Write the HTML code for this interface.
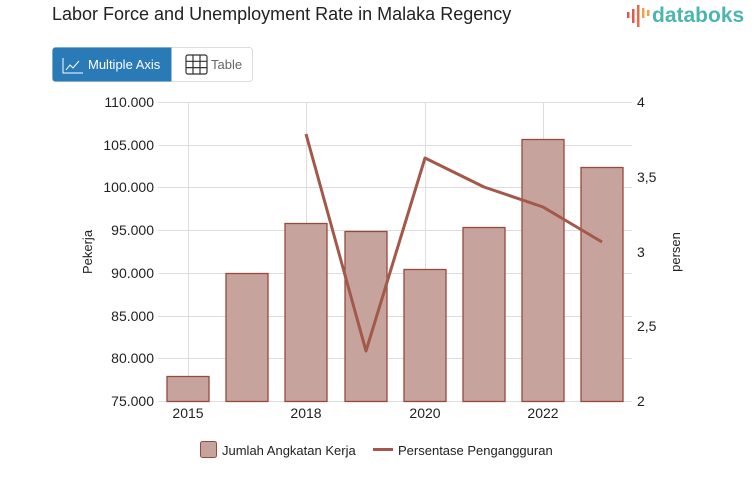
<!DOCTYPE html>
<html><head><style>
body{margin:0;width:753px;height:498px;background:#fff;font-family:"Liberation Sans",sans-serif;overflow:hidden;position:relative}
.t{position:absolute;left:52px;top:4px;font-size:18px;color:#222}
</style></head><body>
<div class="t">Labor Force and Unemployment Rate in Malaka Regency</div>
<svg width="753" height="498" style="position:absolute;left:0;top:0" font-family="Liberation Sans, sans-serif">
<!-- logo -->
<g fill="#e0584a"><rect x="627" y="12" width="2.5" height="6"/><rect x="632" y="9" width="2.5" height="14"/><rect x="637" y="5" width="2.5" height="22" fill="#e86a4a"/><rect x="642" y="8" width="2.5" height="10" fill="#f0a24a"/><rect x="647" y="10" width="2.5" height="6" fill="#f0a24a"/></g>
<text x="652" y="22" font-size="21" font-weight="bold" fill="#4bb6b0">databoks</text>
<!-- buttons -->
<rect x="52.5" y="47.5" width="200" height="34" rx="3" fill="#fff" stroke="#ddd"/>
<path d="M55.5 47.5h116v34h-116a3 3 0 0 1-3-3v-28a3 3 0 0 1 3-3z" fill="#2a7ab8"/>
<g stroke="#fff" fill="none" stroke-width="1"><path d="M63 58v15h20"/><path d="M66 70l4-5 3 3 6-7"/></g>
<text x="88" y="69" font-size="13" fill="#fff">Multiple Axis</text>
<g stroke="#333" fill="none" stroke-width="1.2"><rect x="186" y="55" width="21" height="19" rx="2"/><path d="M186 61.3h21M186 67.6h21M193 55v19M200 55v19"/></g>
<text x="211" y="69" font-size="13" fill="#666">Table</text>
<!-- grid -->
<g stroke="#ddd" stroke-width="1">
<path d="M158 102.5H632M158 145.5H632M158 187.5H632M158 230.5H632M158 273.5H632M158 316.5H632M158 358.5H632M158 401.5H632"/>
<path d="M188.5 102V401M306.5 102V401M425.5 102V401M543.5 102V401"/>
</g>
<g font-size="14" fill="#222" text-anchor="end">
<text x="154" y="107">110.000</text><text x="154" y="150">105.000</text><text x="154" y="192">100.000</text><text x="154" y="235">95.000</text><text x="154" y="278">90.000</text><text x="154" y="321">85.000</text><text x="154" y="363">80.000</text><text x="154" y="406">75.000</text>
</g>
<g font-size="14" fill="#222">
<text x="637" y="107">4</text><text x="637" y="182">3,5</text><text x="637" y="257">3</text><text x="637" y="331">2,5</text><text x="637" y="406">2</text>
</g>
<g font-size="14" fill="#222" text-anchor="middle">
<text x="188" y="418">2015</text><text x="306" y="418">2018</text><text x="425" y="418">2020</text><text x="543" y="418">2022</text>
</g>
<text transform="translate(92,252) rotate(-90)" font-size="13" text-anchor="middle" fill="#222">Pekerja</text>
<text transform="translate(680,252) rotate(-90)" font-size="13" text-anchor="middle" fill="#222">persen</text>
<!-- bars -->
<g fill="#c6a49d" stroke="#99493c" stroke-width="1.3">
<rect x="167" y="376.5" width="42" height="25"/>
<rect x="226" y="273.5" width="42" height="128"/>
<rect x="285" y="223.5" width="42" height="178"/>
<rect x="345" y="231.5" width="42" height="170"/>
<rect x="404" y="269.5" width="42" height="132"/>
<rect x="463" y="227.5" width="42" height="174"/>
<rect x="522" y="139.5" width="42" height="262"/>
<rect x="581" y="167.5" width="42" height="234"/>
</g>
<polyline points="306,134 366,351 425,158 484,187 543,207 602,242" fill="none" stroke="#a3584a" stroke-width="3" stroke-linejoin="round"/>
<!-- legend -->
<rect x="200.5" y="441.5" width="16" height="16" rx="2" fill="#c6a49d" stroke="#99493c"/>
<text x="222" y="455" font-size="13" fill="#222">Jumlah Angkatan Kerja</text>
<path d="M373 449.5h20" stroke="#a3584a" stroke-width="3"/>
<text x="398" y="455" font-size="13" fill="#222">Persentase Pengangguran</text>
</svg>
</body></html>
